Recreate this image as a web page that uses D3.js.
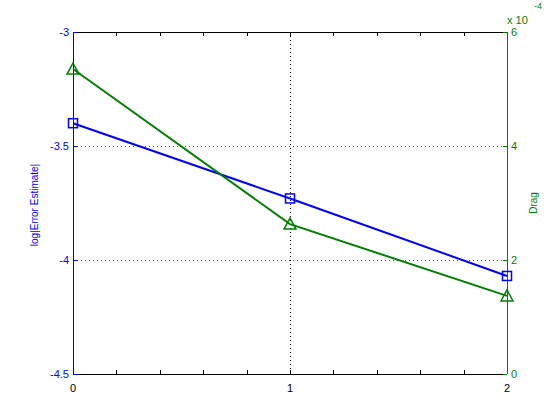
<!DOCTYPE html>
<html>
<head>
<meta charset="utf-8">
<script src="https://cdn.jsdelivr.net/npm/d3@7"></script>
<style>
  body { margin: 0; background: #fff; }
  text { font-family: "Liberation Sans", Arial, sans-serif; }
</style>
</head>
<body>
<script>
// data
const xs = [0, 1, 2];
const errEst = [-3.40, -3.73, -4.07];
const drag = [5.35e-4, 2.63e-4, 1.37e-4];
const xTicks = [0, 0.2, 0.4, 0.6, 0.8, 1, 1.2, 1.4, 1.6, 1.8, 2];
const xLabels = [0, 1, 2];
const leftTicks = [-3, -3.5, -4, -4.5];
const rightTicks = [0, 2e-4, 4e-4, 6e-4];

const width = 560, height = 420;
const m = { left: 73, right: 507, top: 32, bottom: 374 };
const blue = "#0000ff", green = "#008000";

const svg = d3.select("body").append("svg")
  .attr("width", width).attr("height", height);

const x = d3.scaleLinear().domain([0, 2]).range([m.left, m.right]);
const yL = d3.scaleLinear().domain([-4.5, -3]).range([m.bottom, m.top]);
const yR = d3.scaleLinear().domain([0, 6e-4]).range([m.bottom, m.top]);

// grid
svg.selectAll(".hgrid")
  .data(rightTicks.filter(d => d > 0 && d < 6e-4))
  .enter().append("line")
  .attr("x1", m.left).attr("x2", m.right)
  .attr("y1", d => Math.round(yR(d)) + 0.5).attr("y2", d => Math.round(yR(d)) + 0.5)
  .style("stroke", green).style("stroke-dasharray", "1,3");

svg.append("line")
  .attr("x1", Math.round(x(1)) + 0.5).attr("x2", Math.round(x(1)) + 0.5)
  .attr("y1", m.top).attr("y2", m.bottom)
  .style("stroke", "#000").style("stroke-dasharray", "1,3");

// box / x axis
svg.append("line").attr("x1", m.left).attr("x2", m.right)
  .attr("y1", m.bottom + 0.5).attr("y2", m.bottom + 0.5).style("stroke", "#000");
svg.append("line").attr("x1", m.left).attr("x2", m.right)
  .attr("y1", m.top + 0.5).attr("y2", m.top + 0.5).style("stroke", "#000");

svg.selectAll(".xtb").data(xTicks.slice(1, -1)).enter().append("line")
  .attr("x1", d => Math.round(x(d)) + 0.5).attr("x2", d => Math.round(x(d)) + 0.5)
  .attr("y1", m.bottom).attr("y2", m.bottom - 4).style("stroke", "#000");
svg.selectAll(".xtt").data(xTicks.slice(1, -1)).enter().append("line")
  .attr("x1", d => Math.round(x(d)) + 0.5).attr("x2", d => Math.round(x(d)) + 0.5)
  .attr("y1", m.top).attr("y2", m.top + 4).style("stroke", "#000");

svg.selectAll(".xl").data(xLabels).enter().append("text")
  .attr("x", d => x(d)).attr("y", m.bottom + 18)
  .attr("text-anchor", "middle").style("font-size", "11px")
  .text(d => d);

// left axis
svg.append("line").attr("x1", m.left + 0.5).attr("x2", m.left + 0.5)
  .attr("y1", m.top).attr("y2", m.bottom).style("stroke", blue);
svg.selectAll(".lt").data(leftTicks).enter().append("line")
  .attr("x1", m.left).attr("x2", m.left + 4)
  .attr("y1", d => Math.round(yL(d)) + 0.5).attr("y2", d => Math.round(yL(d)) + 0.5)
  .style("stroke", blue);
svg.selectAll(".ll").data(leftTicks).enter().append("text")
  .attr("x", m.left - 4).attr("y", d => yL(d) + 4)
  .attr("text-anchor", "end").style("font-size", "11px").style("fill", blue)
  .text(d => d);
svg.append("text")
  .attr("transform", `translate(38,${(m.top + m.bottom) / 2 + 2}) rotate(-90)`)
  .attr("text-anchor", "middle").style("font-size", "10px").style("fill", blue)
  .text("log|Error Estimate|");

// right axis
svg.append("line").attr("x1", m.right + 0.5).attr("x2", m.right + 0.5)
  .attr("y1", m.top).attr("y2", m.bottom).style("stroke", green);
svg.selectAll(".rt").data(rightTicks).enter().append("line")
  .attr("x1", m.right - 4).attr("x2", m.right)
  .attr("y1", d => Math.round(yR(d)) + 0.5).attr("y2", d => Math.round(yR(d)) + 0.5)
  .style("stroke", green);
svg.selectAll(".rl").data(rightTicks).enter().append("text")
  .attr("x", m.right + 4).attr("y", d => yR(d) + 4)
  .style("font-size", "11px").style("fill", green)
  .text(d => Math.round(d * 1e4));
svg.append("text").attr("x", m.right).attr("y", m.top - 8)
  .style("font-size", "11px").style("fill", green).text("x 10");
svg.append("text").attr("x", m.right + 27).attr("y", 9)
  .style("font-size", "9px").style("fill", green).text("-4");
svg.append("text")
  .attr("transform", `translate(537,${(m.top + m.bottom) / 2}) rotate(-90)`)
  .attr("text-anchor", "middle").style("font-size", "10px").style("fill", green)
  .text("Drag");

// blue series
const lineL = d3.line().x((d, i) => x(xs[i])).y(d => yL(d));
svg.append("path").datum(errEst).attr("d", lineL)
  .style("fill", "none").style("stroke", blue).style("stroke-width", 2);
svg.selectAll(".sq").data(errEst).enter().append("rect")
  .attr("x", (d, i) => x(xs[i]) - 4.5).attr("y", d => yL(d) - 4.5)
  .attr("width", 9).attr("height", 9)
  .style("fill", "none").style("stroke", blue).style("stroke-width", 1.5);

// green series
const lineR = d3.line().x((d, i) => x(xs[i])).y(d => yR(d));
svg.append("path").datum(drag).attr("d", lineR)
  .style("fill", "none").style("stroke", green).style("stroke-width", 2);
svg.selectAll(".tri").data(drag).enter().append("path")
  .attr("d", (d, i) => {
    const cx = x(xs[i]), cy = yR(d);
    return `M${cx},${cy - 6}L${cx + 6},${cy + 5}L${cx - 6},${cy + 5}Z`;
  })
  .style("fill", "none").style("stroke", green).style("stroke-width", 1.5);
</script>
</body>
</html>
